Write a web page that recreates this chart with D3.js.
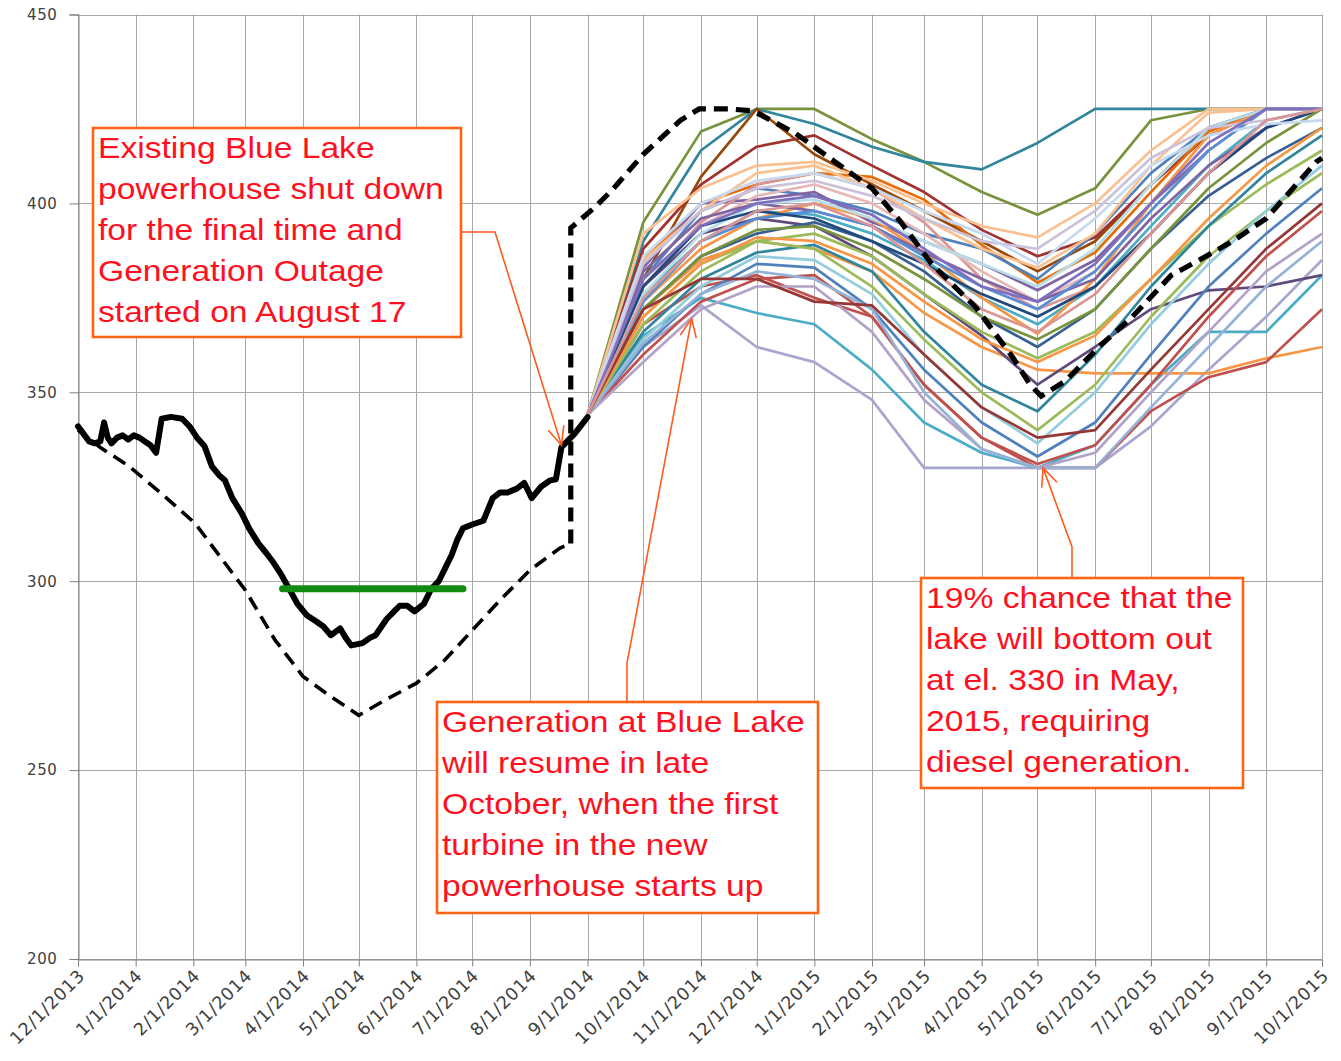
<!DOCTYPE html>
<html><head><meta charset="utf-8">
<script src="https://cdn.jsdelivr.net/npm/d3@7"></script>
<style>body{margin:0;background:#fff}</style>
</head><body>
<svg id="c" width="1341" height="1061"></svg>
<script>
// ---------- DATA ----------
const yTicks = [200, 250, 300, 350, 400, 450];
const monthTicks = ["2013-12-01","2014-01-01","2014-02-01","2014-03-01","2014-04-01","2014-05-01","2014-06-01","2014-07-01","2014-08-01","2014-09-01","2014-10-01","2014-11-01","2014-12-01","2015-01-01","2015-02-01","2015-03-01","2015-04-01","2015-05-01","2015-06-01","2015-07-01","2015-08-01","2015-09-01","2015-10-01"];

// observed lake level (solid black)
const obsDates = ["2013-12-01","2013-12-04","2013-12-07","2013-12-10","2013-12-13","2013-12-15","2013-12-17","2013-12-19","2013-12-22","2013-12-25","2013-12-28","2013-12-31","2014-01-03","2014-01-06","2014-01-09","2014-01-12","2014-01-15","2014-01-20","2014-01-26","2014-01-30","2014-02-03","2014-02-07","2014-02-11","2014-02-15","2014-02-18","2014-02-22","2014-02-27","2014-03-03","2014-03-08","2014-03-12","2014-03-16","2014-03-20","2014-03-25","2014-03-29","2014-04-03","2014-04-08","2014-04-12","2014-04-16","2014-04-21","2014-04-24","2014-04-27","2014-05-03","2014-05-07","2014-05-10","2014-05-16","2014-05-20","2014-05-23","2014-05-27","2014-05-31","2014-06-05","2014-06-09","2014-06-13","2014-06-17","2014-06-20","2014-06-23","2014-06-26","2014-07-01","2014-07-07","2014-07-12","2014-07-16","2014-07-20","2014-07-25","2014-07-29","2014-08-02","2014-08-07","2014-08-12","2014-08-15","2014-08-18","2014-08-25","2014-09-01"];
const obsLevels = [341,339,337,336.5,337,342,338,336.5,338,338.6,337.5,338.6,338,337,336,334,343,343.5,343,341,338,335.8,330.4,328,326.7,322,318,314,310,307.6,305,302,297.6,294,291,289.4,288,285.7,287.5,285,283,283.6,285,285.7,290,292,293.5,293.5,292,294,298,300,304,307,311,314,315,316,322,323.5,323.5,324.5,326,322,325,326.7,327,335.5,339,343.4];

// rule curve before outage (thin dashed)
const ruleDates = ["2013-12-01","2013-12-13","2013-12-28","2014-01-16","2014-02-02","2014-03-01","2014-03-17","2014-04-01","2014-04-15","2014-05-01","2014-05-15","2014-06-01","2014-06-16","2014-07-01","2014-07-16","2014-08-01","2014-08-17","2014-08-23"];
const ruleLevels = [340,335.4,330.6,322.7,315.3,297.6,284.4,274.8,269.8,264.5,268.5,273,279,287,295,302.9,308.7,310];

// rule curve after outage (thick dashed)
const planDates = ["2014-08-23","2014-08-23","2014-09-05","2014-09-14","2014-10-01","2014-10-21","2014-10-31","2014-11-16","2014-11-29","2014-12-22","2015-01-11","2015-02-01","2015-02-16","2015-03-05","2015-03-29","2015-04-18","2015-04-27","2015-05-03","2015-05-16","2015-06-03","2015-06-21","2015-07-12","2015-07-27","2015-08-14","2015-09-01","2015-09-28","2015-10-01"];
const planLevels = [310,393.5,399,403.4,413,422,425,425,424.5,418.5,411.4,404,395.4,384,372.4,359,352,349,353,362,370,381,385,390,396,411,412];

// minimum level band (green)
const minDates = ["2014-03-21","2014-06-26"];
const minLevels = [298,298];

// forecast traces (monthly)
const fanDates = ["2014-09-01","2014-10-01","2014-11-01","2014-12-01","2015-01-01","2015-02-01","2015-03-01","2015-04-01","2015-05-01","2015-06-01","2015-07-01","2015-08-01","2015-09-01","2015-10-01"];
const fanSeries = [
 [344,395,419,425,425,417,411,403,397,404,422,425,425,425],
 [344,390,414,425,421,415,411,409,416,425,425,425,425,425],
 [344,380,407,425,413,405,398,390,382,390,405,420,425,425],
 [344,388,405,415,418,410,403,393,386,391,405,418,425,425],
 [344,385,400,405,408,407,401,389,379,387,403,419,425,425],
 [344,362,373,362,358,348,330,330,330,330,341,356,370,385],
 [344,365,375,371,368,356,342,334,330,336,352,366,366,381],
 [344,372,385,390,388,382,371,362,356,355,355,355,359,362],
 [344,368,378,381,375,370,352,338,330,330,345,354,358,372],
 [344,378,392,396,394,386,376,365,352,362,372,377,378,381],
 [344,392,404,410,411,406,400,394,391,400,414,425,425,425],
 [344,380,398,404,402,398,392,388,380,392,408,420,425,425],
 [344,383,400,401,403,395,390,384,377,385,400,414,425,425],
 [344,378,395,405,408,404,395,380,372,378,392,408,420,425],
 [344,376,390,398,397,392,385,375,368,378,394,410,422,425],
 [344,374,388,396,400,396,387,375,365.5,380,400,418,425,425],
 [344,372,386,392,395,390,382,370,362,372,388,402,412,420],
 [344,370,384,390,392,386,376,366,359,366,380,394,405,414],
 [344,366,380,387,389,382,366,352,345,360,378,394,408,418],
 [344,368,382,390,388,378,364,350,340,352,370,386,398,408],
 [344,364,378,386,385,376,360,346,336.5,350,368,384,398,410],
 [344,362,376,384,383,372,356,342,333,342,360,378,392,404],
 [344,360,374,380,381,370,352,338,331,336,352,370,386,398],
 [344,358,372,378,378,366,348,335,330,334,350,366,382,392],
 [344,363,376,382,380,372,350,335,330,330,346,362,378,390],
 [344,380,394,402,405,400,392,382,374,382,398,414,425,425],
 [344,382,396,400,398,394,387,380,374,380,396,410,420,425],
 [344,385,398,408,410,404,396,388,383,392,410,424,425,425],
 [344,376,392,400,401,396,390,384,378,388,405,420,425,425],
 [344,374,390,396,398,394,386,378,372,382,398,414,425,425],
 [344,378,394,398,396,390,384,376,370,378,392,408,420,425],
 [344,372,386,393,394,388,380,370,364,372,388,404,416,425],
 [344,370,384,391,390,384,374,364,358,365,380,396,410,420],
 [344,372,380,380,374,373,360,346,338,340,356,372,388,400],
 [344,384,398,404,406,402,396,390,388,398,412,420,422,425],
 [344,386,400,406,408,404,398,392,384,396,410,418,421,422],
 [344,380,394,400,402,397,388,378,374,384,400,416,425,425],
 [344,375,390,398,400,394,384,372,366,376,392,408,422,425]
];
const fanColors = ["#77933C","#31859C","#984807","#A0322F","#E46C0A","#A6A6CE","#4BACC6","#F79646","#C0504D","#604A7B","#FAC090","#4F81BD","#8064A2","#D99694","#4BACC6","#F79646","#376092","#9BBB59","#31859C","#9BBB59","#93CDDD","#4F81BD","#C0504D","#B3A2C7","#95B3D7","#E6B9B8","#8064A2","#FAC090","#B7DEE8","#558ED5","#1F497D","#77933C","#F79646","#953735","#CCC1DA","#C6D9F1","#7F6FBF","#DA9694"];

// annotations
const notes = [
  {lines:["Existing Blue Lake","powerhouse shut down","for the final time and","Generation Outage","started on August 17"],
   box:[93,128,461,337], path:[[461,232],[495,232]], tip:["2014-08-18",336]},
  {lines:["Generation at Blue Lake","will resume in late","October, when the first","turbine in the new","powerhouse starts up"],
   box:[437,702,818,913], path:[[627,702],[627,663]], tip:["2014-10-27",369.5]},
  {lines:["19% chance that the","lake will bottom out","at el. 330 in May,","2015, requiring","diesel generation."],
   box:[921,578,1243,788], path:[[1072,578],[1072,547]], tip:["2015-05-04",330]}
];

// ---------- CHART ----------
const parse = d3.timeParse("%Y-%m-%d");
const x = d3.scaleTime().domain([parse("2013-12-01"), parse("2015-10-01")]).range([78, 1322]);
const y = d3.scaleLinear().domain([200, 450]).range([959, 14.5]);
const svg = d3.select("#c");
const months = monthTicks.map(parse);
const px = v => Math.round(v) + 0.5;

// grid
const grid = svg.append("g").attr("stroke", "#a8a8a8").attr("stroke-width", 1);
grid.selectAll(".v").data(months).join("line")
  .attr("x1", d => px(x(d))).attr("x2", d => px(x(d)))
  .attr("y1", y(450)).attr("y2", y(200));
grid.selectAll(".h").data(yTicks).join("line")
  .attr("x1", x.range()[0]).attr("x2", x.range()[1])
  .attr("y1", d => px(y(d))).attr("y2", d => px(y(d)));

// axes
const yAxis = svg.append("g").attr("transform", `translate(${px(x.range()[0])},0)`)
  .call(d3.axisLeft(y).tickValues(yTicks).tickSize(9).tickPadding(12).tickFormat(d3.format("d")));
const xAxis = svg.append("g").attr("transform", `translate(0,${px(y(200))})`)
  .call(d3.axisBottom(x).tickValues(months).tickSize(7).tickFormat(d3.timeFormat("%-m/%-d/%Y")));
[yAxis, xAxis].forEach(a => {
  a.select(".domain").attr("stroke", "#808080");
  a.selectAll(".tick line").attr("stroke", "#808080");
  a.selectAll("text").attr("fill", "#404040").attr("font-family", "DejaVu Sans").attr("font-size", 15);
});
yAxis.selectAll("text").attr("letter-spacing", "0.6px");
xAxis.selectAll("text")
  .attr("x", 0).attr("y", 0).attr("dy", "0.35em")
  .attr("text-anchor", "end")
  .attr("font-size", 17.5).attr("letter-spacing", "0.8px")
  .attr("transform", "translate(3,13) rotate(-45)");

// forecast traces
const line = d3.line().x(d => x(d[0])).y(d => y(d[1]));
const fanD = fanDates.map(parse);
svg.append("g").selectAll("path").data(fanSeries).join("path")
  .attr("d", s => line(s.map((v, i) => [fanD[i], v])))
  .attr("fill", "none").attr("stroke", (s, i) => fanColors[i % fanColors.length])
  .attr("stroke-width", 2.7).attr("stroke-linejoin", "round");

// rule curves
svg.append("path").attr("d", line(ruleDates.map((d, i) => [parse(d), ruleLevels[i]])))
  .attr("fill", "none").attr("stroke", "#000").attr("stroke-width", 3.6).attr("stroke-dasharray", "14,8");
svg.append("path").attr("d", line(planDates.map((d, i) => [parse(d), planLevels[i]])))
  .attr("fill", "none").attr("stroke", "#000").attr("stroke-width", 5.2).attr("stroke-dasharray", "14,8");

// observed
svg.append("path").attr("d", line(obsDates.map((d, i) => [parse(d), obsLevels[i]])))
  .attr("fill", "none").attr("stroke", "#000").attr("stroke-width", 6)
  .attr("stroke-linejoin", "round").attr("stroke-linecap", "round");

// minimum band
svg.append("path").attr("d", line(minDates.map((d, i) => [parse(d), minLevels[i]])))
  .attr("fill", "none").attr("stroke", "#138a13").attr("stroke-width", 7).attr("stroke-linecap", "round");

// annotations
const ann = svg.append("g");
notes.forEach(n => {
  const [x0, y0, x1, y1] = n.box;
  ann.append("rect").attr("x", x0).attr("y", y0).attr("width", x1 - x0).attr("height", y1 - y0)
    .attr("fill", "#fff").attr("stroke", "#ff6414").attr("stroke-width", 2.6);
  n.lines.forEach((t, i) => {
    ann.append("text").text(t)
      .attr("transform", `translate(${x0 + 5},${y0 + 30 + i * 41}) scale(1.16,1)`)
      .attr("font-family", "Liberation Sans, Arial, sans-serif").attr("font-size", 29)
      .attr("fill", "#ff1020");
  });
  const tip = [x(parse(n.tip[0])), y(n.tip[1])];
  const pts = n.path.concat([tip]);
  ann.append("path").attr("d", d3.line()(pts)).attr("fill", "none")
    .attr("stroke", "#ff5a1f").attr("stroke-width", 1.6);
  const prev = pts[pts.length - 2];
  const ang = Math.atan2(tip[1] - prev[1], tip[0] - prev[0]);
  const L = 20, a = 0.42;
  const head = [[tip[0] - L * Math.cos(ang - a), tip[1] - L * Math.sin(ang - a)], tip,
                [tip[0] - L * Math.cos(ang + a), tip[1] - L * Math.sin(ang + a)]];
  ann.append("path").attr("d", d3.line()(head)).attr("fill", "none")
    .attr("stroke", "#ff5a1f").attr("stroke-width", 1.6);
});
</script>
</body></html>
